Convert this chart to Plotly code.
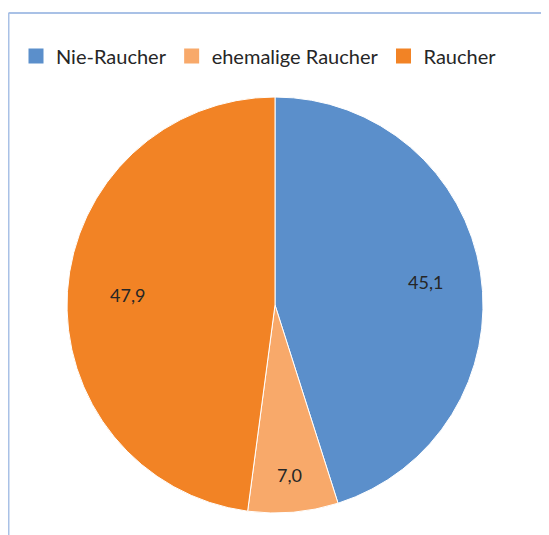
import math
import plotly.graph_objects as go

# Rauchstatus (Anteile in %)
labels = ['Nie-Raucher', 'ehemalige Raucher', 'Raucher']
values = [45.1, 7.0, 47.9]
colors = ['#5B8FCB', '#F8A96A', '#F28325']

W, H = 549, 535
off = 8  # page offset of the screenshot

# pie geometry in pixels (top-left origin)
cx, cy, r = 275 - off, 305 - off, 208
label_r = [0.73, 0.82, 0.71]

fig = go.Figure()
fig.add_trace(go.Pie(
    labels=labels, values=values,
    marker=dict(colors=colors, line=dict(color='white', width=1)),
    sort=False, direction='clockwise', rotation=0,
    textinfo='none', showlegend=False,
    hoverinfo='label+value',
    domain=dict(x=[(cx - r) / W, (cx + r) / W], y=[(H - cy - r) / H, (H - cy + r) / H]),
))

# legend entries with square swatches
for lab, col in zip(labels, colors):
    fig.add_trace(go.Scatter(x=[None], y=[None], mode='markers', name=lab,
                             marker=dict(symbol='square', size=15, color=col)))

# value labels placed at slice mid-angles
total = sum(values)
cum = 0
annotations = []
for v, k in zip(values, label_r):
    ang = 2 * math.pi * (cum + v / 2) / total
    cum += v
    px = cx + k * r * math.sin(ang)
    py = cy - k * r * math.cos(ang)
    annotations.append(dict(x=px / W, y=(H - py) / H, xref='paper', yref='paper',
                            xanchor='center', yanchor='middle',
                            text=f'{v:.1f}'.replace('.', ','), showarrow=False,
                            font=dict(size=18, color='#262626')))

fig.update_layout(
    width=W, height=H,
    margin=dict(l=0, r=0, t=0, b=0),
    paper_bgcolor='white', plot_bgcolor='white',
    font=dict(family='Lato, Open Sans, sans-serif', size=18, color='#262626'),
    xaxis=dict(visible=False), yaxis=dict(visible=False),
    legend=dict(orientation='h', x=(16 - off) / W, y=(H - 56 + off) / H, xanchor='left', yanchor='middle',
                font=dict(size=20), itemwidth=30, tracegroupgap=0),
    annotations=annotations,
    shapes=[
        dict(type='line', xref='paper', yref='paper', x0=(8.5 - off) / W, x1=(8.5 - off) / W,
             y0=0, y1=(H - 13 + off) / H, line=dict(color='#A9C1E6', width=2)),
        dict(type='line', xref='paper', yref='paper', x0=(8.5 - off) / W, x1=1,
             y0=(H - 13 + off) / H, y1=(H - 13 + off) / H, line=dict(color='#A9C1E6', width=2)),
    ],
)

fig.write_html('out.html')
